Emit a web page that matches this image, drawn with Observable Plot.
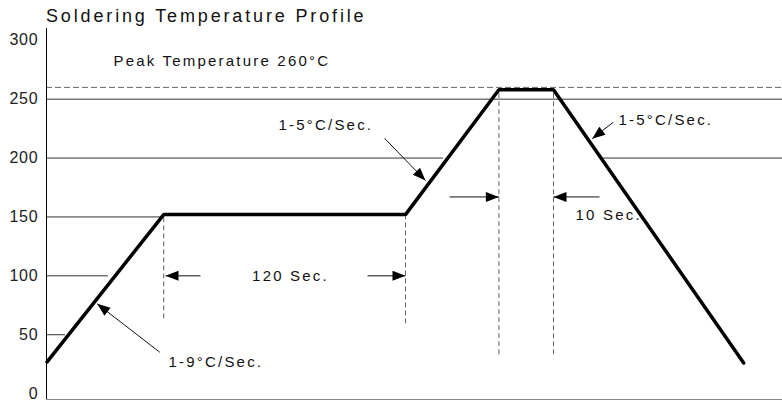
<!DOCTYPE html>
<html><head><meta charset="utf-8">
<script src="https://cdn.jsdelivr.net/npm/d3@7"></script>
<script src="https://cdn.jsdelivr.net/npm/@observablehq/plot@0.6"></script>
<style>
body{margin:0;background:#fff;font-family:"Liberation Sans",Arial,sans-serif;}
#title{height:28px;box-sizing:border-box;padding:7px 0 0 46px;font-size:18px;line-height:18px;letter-spacing:2.85px;color:#111;white-space:nowrap;}
#chart svg text{letter-spacing:2.2px;}
#chart g[aria-label^="y-axis"] text{letter-spacing:0.8px;}
</style></head><body>
<div id="title">Soldering Temperature Profile</div>
<div id="chart"></div>
<script>
// Schematic time units (not to scale) and temperature in °C
const profileTime = [0.3, 58.6, 179.5, 226.2, 253.5, 348.6];
const profileTemp = [27, 152, 152, 258, 258, 26];
const yTicks = [0, 50, 100, 150, 200, 250, 300];
const peakTemp = [260];
const gridTemp  = [250, 200, 200, 150, 100, 50];
const gridStart = [0, 0, 277, 0, 0, 0];
const gridEnd   = [368, 198.5, 368, 58.6, 31, 9.5];
const markerTime   = [58.6, 179.5, 226.2, 253.5];
const markerTop    = [152, 152, 258, 258];
const markerBottom = [63.5, 59.3, 33, 33];
const arrowTailTime = [77, 160.5, 201.5, 276.5, 56.65, 169, 283.35];
const arrowTailTemp = [100, 100, 167, 167, 35.1, 216.8, 230.4];
const arrowTipTime  = [59.5, 179.5, 226.2, 253.5, 25.35, 189.5, 272.85];
const arrowTipTemp  = [100, 100, 167, 167, 76.2, 180.9, 216.3];
const labelText   = ["Peak Temperature 260°C", "120 Sec.", "10 Sec.", "1-9°C/Sec.", "1-5°C/Sec.", "1-5°C/Sec."];
const labelTime   = [33.5, 122, 264.5, 61, 116, 286];
const labelTemp   = [282, 100, 151.2, 26.7, 227.6, 232];
const labelAnchor = ["start", "middle", "start", "start", "start", "start"];

const W = 782, H = 373, mL = 46, mR = 0, mT = 0, mB = 2;
const xDomain = [0, 368], yDomain = [-5, 310];
const kx = (W - mL - mR) / (xDomain[1] - xDomain[0]);
const ky = (H - mT - mB) / (yDomain[1] - yDomain[0]);

const profile = profileTime.map((t, i) => ({t, v: profileTemp[i]}));
const grid = gridTemp.map((v, i) => ({v, x1: gridStart[i], x2: gridEnd[i]}));
const markers = markerTime.map((t, i) => ({t, y1: markerBottom[i], y2: markerTop[i]}));
const arrows = arrowTailTime.map((t, i) => {
  const a = {x1: t, y1: arrowTailTemp[i], x2: arrowTipTime[i], y2: arrowTipTemp[i]};
  a.angle = Math.atan2(-(a.y2 - a.y1) * ky, (a.x2 - a.x1) * kx) * 180 / Math.PI;
  return a;
});
const labels = labelText.map((s, i) => ({s, t: labelTime[i], v: labelTemp[i], anchor: labelAnchor[i]}));

const head = {draw(ctx) { ctx.moveTo(0, 0); ctx.lineTo(-13, -5); ctx.lineTo(-13, 5); ctx.closePath(); }};

const chart = Plot.plot({
  width: W, height: H,
  marginLeft: mL, marginRight: mR, marginTop: mT, marginBottom: mB,
  style: {fontFamily: "Liberation Sans, Arial, sans-serif", fontSize: "16px", color: "#222", background: "#fff"},
  x: {domain: xDomain, axis: null},
  y: {domain: yDomain, ticks: yTicks, tickSize: 0, tickPadding: 8, label: null},
  marks: [
    Plot.ruleY(grid, {y: "v", x1: "x1", x2: "x2", stroke: "#333", strokeWidth: 1}),
    Plot.ruleY(peakTemp, {stroke: "#666", strokeWidth: 1, strokeDasharray: "6,3"}),
    Plot.ruleX(markers, {x: "t", y1: "y1", y2: "y2", stroke: "#666", strokeWidth: 1, strokeDasharray: "5,3"}),
    Plot.ruleY([yDomain[0]], {stroke: "#888", strokeWidth: 1}),
    Plot.ruleX([xDomain[0]], {stroke: "#000", strokeWidth: 1}),
    Plot.line(profile, {x: "t", y: "v", stroke: "#000", strokeWidth: 3.5, strokeLinejoin: "miter", curve: "linear"}),
    Plot.link(arrows, {x1: "x1", y1: "y1", x2: "x2", y2: "y2", stroke: "#111", strokeWidth: 1}),
    Plot.dot(arrows, {x: "x2", y: "y2", rotate: "angle", symbol: head, fill: "#000", stroke: "none", r: 4}),
    Plot.text(labels, {filter: d => d.anchor === "start", x: "t", y: "v", text: "s", textAnchor: "start", fontSize: 15, fill: "#111"}),
    Plot.text(labels, {filter: d => d.anchor === "middle", x: "t", y: "v", text: "s", textAnchor: "middle", fontSize: 15, fill: "#111"})
  ]
});
document.getElementById("chart").appendChild(chart);
</script>
</body></html>
